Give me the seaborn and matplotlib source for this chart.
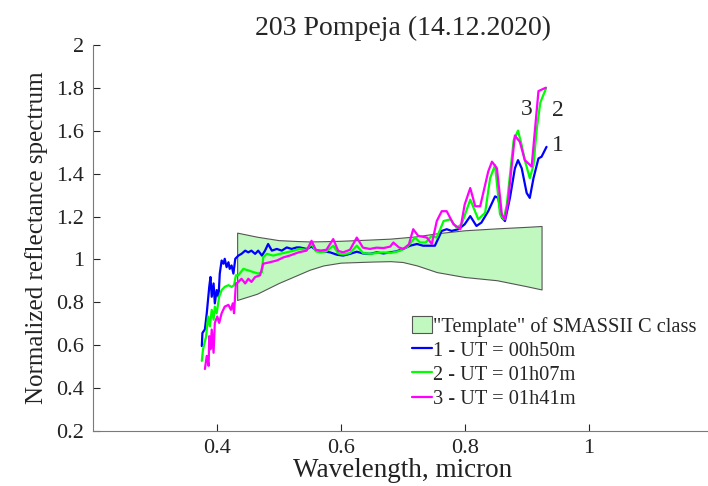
import numpy as np
import pandas as pd
import seaborn as sns
import matplotlib
matplotlib.use("Agg")
import matplotlib.pyplot as plt
from matplotlib.patches import Patch
from matplotlib.lines import Line2D

# "Template" of SMASSII C class (band edges)
band_wl = [0.433, 0.465, 0.50, 0.529, 0.55, 0.572, 0.60, 0.65, 0.68, 0.70, 0.723, 0.755, 0.80, 0.852, 0.90, 0.924]
band_upper = [1.125, 1.106, 1.090, 1.086, 1.084, 1.085, 1.087, 1.093, 1.097, 1.102, 1.108, 1.122, 1.136, 1.145, 1.152, 1.156]
band_lower = [0.811, 0.840, 0.890, 0.926, 0.952, 0.972, 0.985, 0.990, 0.992, 0.988, 0.972, 0.941, 0.918, 0.903, 0.875, 0.860]

# 1 - UT = 00h50m
wl_1 = [0.376, 0.377, 0.381, 0.384, 0.388, 0.390, 0.392, 0.395, 0.397, 0.400, 0.403, 0.405, 0.408, 0.411,
        0.413, 0.416, 0.419, 0.421, 0.424, 0.427, 0.430, 0.435, 0.440, 0.446, 0.451, 0.456, 0.462, 0.467,
        0.473, 0.478, 0.483, 0.489, 0.497, 0.505, 0.513, 0.521, 0.529, 0.534, 0.545, 0.553, 0.561, 0.572,
        0.583, 0.594, 0.604, 0.615, 0.626, 0.636, 0.647, 0.658, 0.669, 0.680, 0.690, 0.701, 0.712, 0.723,
        0.733, 0.741, 0.752, 0.763, 0.771, 0.779, 0.790, 0.800, 0.809, 0.819, 0.827, 0.838, 0.849, 0.854,
        0.860, 0.865, 0.873, 0.881, 0.886, 0.892, 0.900, 0.905, 0.911, 0.919, 0.924, 0.932]
refl_1 = [0.596, 0.657, 0.674, 0.749, 0.872, 0.918, 0.826, 0.888, 0.795, 0.857, 0.826, 0.934, 0.995, 0.980,
          1.003, 0.964, 0.987, 0.956, 0.972, 0.934, 1.003, 1.018, 1.026, 1.041, 1.033, 1.041, 1.026, 1.041,
          1.018, 1.041, 1.072, 1.041, 1.049, 1.041, 1.056, 1.049, 1.056, 1.056, 1.049, 1.060, 1.041, 1.038,
          1.033, 1.022, 1.018, 1.026, 1.036, 1.028, 1.026, 1.033, 1.028, 1.033, 1.038, 1.049, 1.064, 1.072,
          1.064, 1.064, 1.064, 1.133, 1.141, 1.133, 1.141, 1.164, 1.202, 1.156, 1.172, 1.225, 1.294, 1.287,
          1.195, 1.179, 1.287, 1.425, 1.463, 1.425, 1.310, 1.287, 1.379, 1.471, 1.479, 1.525]

# 2 - UT = 01h07m
wl_2 = [0.376, 0.378, 0.383, 0.386, 0.389, 0.392, 0.395, 0.397, 0.400, 0.404, 0.408, 0.413, 0.419, 0.424,
        0.428, 0.431, 0.435, 0.443, 0.451, 0.459, 0.467, 0.473, 0.475, 0.481, 0.491, 0.502, 0.513, 0.524,
        0.534, 0.545, 0.553, 0.560, 0.567, 0.577, 0.588, 0.596, 0.604, 0.615, 0.626, 0.636, 0.647, 0.658,
        0.669, 0.680, 0.690, 0.696, 0.708, 0.720, 0.728, 0.737, 0.747, 0.755, 0.766, 0.777, 0.787, 0.795,
        0.809, 0.822, 0.833, 0.841, 0.849, 0.857, 0.863, 0.868, 0.879, 0.886, 0.892, 0.897, 0.905, 0.911,
        0.916, 0.922, 0.931]
refl_2 = [0.527, 0.581, 0.642, 0.734, 0.688, 0.765, 0.719, 0.780, 0.749, 0.826, 0.857, 0.872, 0.880, 0.872,
          0.880, 0.926, 0.926, 0.956, 0.949, 0.941, 0.934, 0.941, 1.010, 1.026, 1.018, 1.026, 1.033, 1.041,
          1.049, 1.045, 1.072, 1.038, 1.033, 1.038, 1.064, 1.028, 1.023, 1.030, 1.064, 1.030, 1.026, 1.030,
          1.033, 1.030, 1.036, 1.041, 1.060, 1.102, 1.079, 1.079, 1.110, 1.102, 1.179, 1.187, 1.148, 1.164,
          1.279, 1.187, 1.218, 1.379, 1.440, 1.210, 1.187, 1.256, 1.555, 1.601, 1.532, 1.463, 1.379, 1.440,
          1.601, 1.732, 1.796]

# 3 - UT = 01h41m
wl_3 = [0.381, 0.384, 0.387, 0.388, 0.390, 0.392, 0.395, 0.397, 0.401, 0.404, 0.408, 0.413, 0.419, 0.423,
        0.426, 0.428, 0.431, 0.435, 0.440, 0.446, 0.451, 0.456, 0.462, 0.470, 0.475, 0.486, 0.497, 0.508,
        0.518, 0.532, 0.545, 0.553, 0.560, 0.567, 0.577, 0.588, 0.596, 0.604, 0.615, 0.626, 0.636, 0.647,
        0.658, 0.669, 0.680, 0.685, 0.694, 0.701, 0.710, 0.717, 0.725, 0.739, 0.747, 0.755, 0.763, 0.771,
        0.782, 0.793, 0.800, 0.809, 0.817, 0.825, 0.838, 0.844, 0.852, 0.860, 0.865, 0.870, 0.881, 0.889,
        0.897, 0.908, 0.919, 0.931]
refl_3 = [0.489, 0.550, 0.504, 0.642, 0.581, 0.673, 0.565, 0.704, 0.734, 0.704, 0.749, 0.780, 0.788, 0.765,
          0.795, 0.749, 0.888, 0.895, 0.910, 0.888, 0.910, 0.895, 0.918, 0.926, 0.980, 0.987, 0.995, 1.010,
          1.018, 1.033, 1.041, 1.087, 1.045, 1.041, 1.045, 1.095, 1.040, 1.033, 1.045, 1.102, 1.055, 1.049,
          1.055, 1.053, 1.060, 1.079, 1.056, 1.049, 1.070, 1.141, 1.110, 1.102, 1.072, 1.179, 1.225, 1.225,
          1.164, 1.141, 1.256, 1.333, 1.248, 1.248, 1.410, 1.456, 1.425, 1.210, 1.187, 1.271, 1.578, 1.548,
          1.463, 1.433, 1.785, 1.801]

labels = ['1 - UT = 00h50m', '2 - UT = 01h07m', '3 - UT = 01h41m']
colors = ['#0000ff', '#00ff00', '#ff00ff']

sns.set_style("ticks")
plt.rcParams['font.family'] = ['Liberation Serif', 'DejaVu Serif']

fig = plt.figure(figsize=(7.08, 4.86), dpi=100)
ax = fig.add_axes([0.1309, 0.1132, 0.8757, 0.7942])

ax.fill_between(band_wl, band_lower, band_upper, facecolor='#c0f8c0', edgecolor='#555555', linewidth=0.8)

spectra = pd.concat([
    pd.DataFrame({'wl': wl_1, 'refl': refl_1, 'obs': labels[0]}),
    pd.DataFrame({'wl': wl_2, 'refl': refl_2, 'obs': labels[1]}),
    pd.DataFrame({'wl': wl_3, 'refl': refl_3, 'obs': labels[2]}),
])
sns.lineplot(data=spectra, x='wl', y='refl', hue='obs', palette=colors, sort=False,
             estimator=None, linewidth=1.6, legend=False, ax=ax)

ax.text(0.900, 1.70, '3', fontsize=17, ha='center', va='center')
ax.text(0.951, 1.693, '2', fontsize=17, ha='center', va='center')
ax.text(0.951, 1.532, '1', fontsize=17, ha='center', va='center')

ax.set_xlim(0.2, 1.2)
ax.set_ylim(0.2, 2)
ax.set_xticks([0.4, 0.6, 0.8, 1.0])
ax.set_xticklabels(['0.4', '0.6', '0.8', '1'])
ax.set_yticks(np.arange(0.2, 2.01, 0.2))
ax.set_yticklabels(['0.2', '0.4', '0.6', '0.8', '1', '1.2', '1.4', '1.6', '1.8', '2'])
ax.tick_params(direction='in', length=5, width=0.8, labelsize=16, colors='#262626', labelcolor='#222222', pad=6)
for s in ['top', 'right']:
    ax.spines[s].set_visible(False)
for s in ['left', 'bottom']:
    ax.spines[s].set_color('#7a7a7a')
    ax.spines[s].set_linewidth(0.8)

ax.set_xlabel('Wavelength, micron', fontsize=19.5, color='#222222', labelpad=0)
ax.set_ylabel('Normalized reflectance spectrum', fontsize=18, color='#222222', labelpad=6)
ax.set_title('203 Pompeja (14.12.2020)', fontsize=20, pad=7)

handles = [Patch(facecolor='#c0f8c0', edgecolor='#555555', linewidth=0.8)]
handles += [Line2D([], [], color=c, linewidth=1.6) for c in colors]
ax.legend(handles, ['"Template" of SMASSII C class'] + labels, loc='upper left',
          bbox_to_anchor=(0.515, 0.297), frameon=False, fontsize=14.7, handlelength=1.0,
          handleheight=0.9, handletextpad=0.05, labelspacing=0.18, borderaxespad=0, borderpad=0)

fig.savefig('out.png', dpi=100)
